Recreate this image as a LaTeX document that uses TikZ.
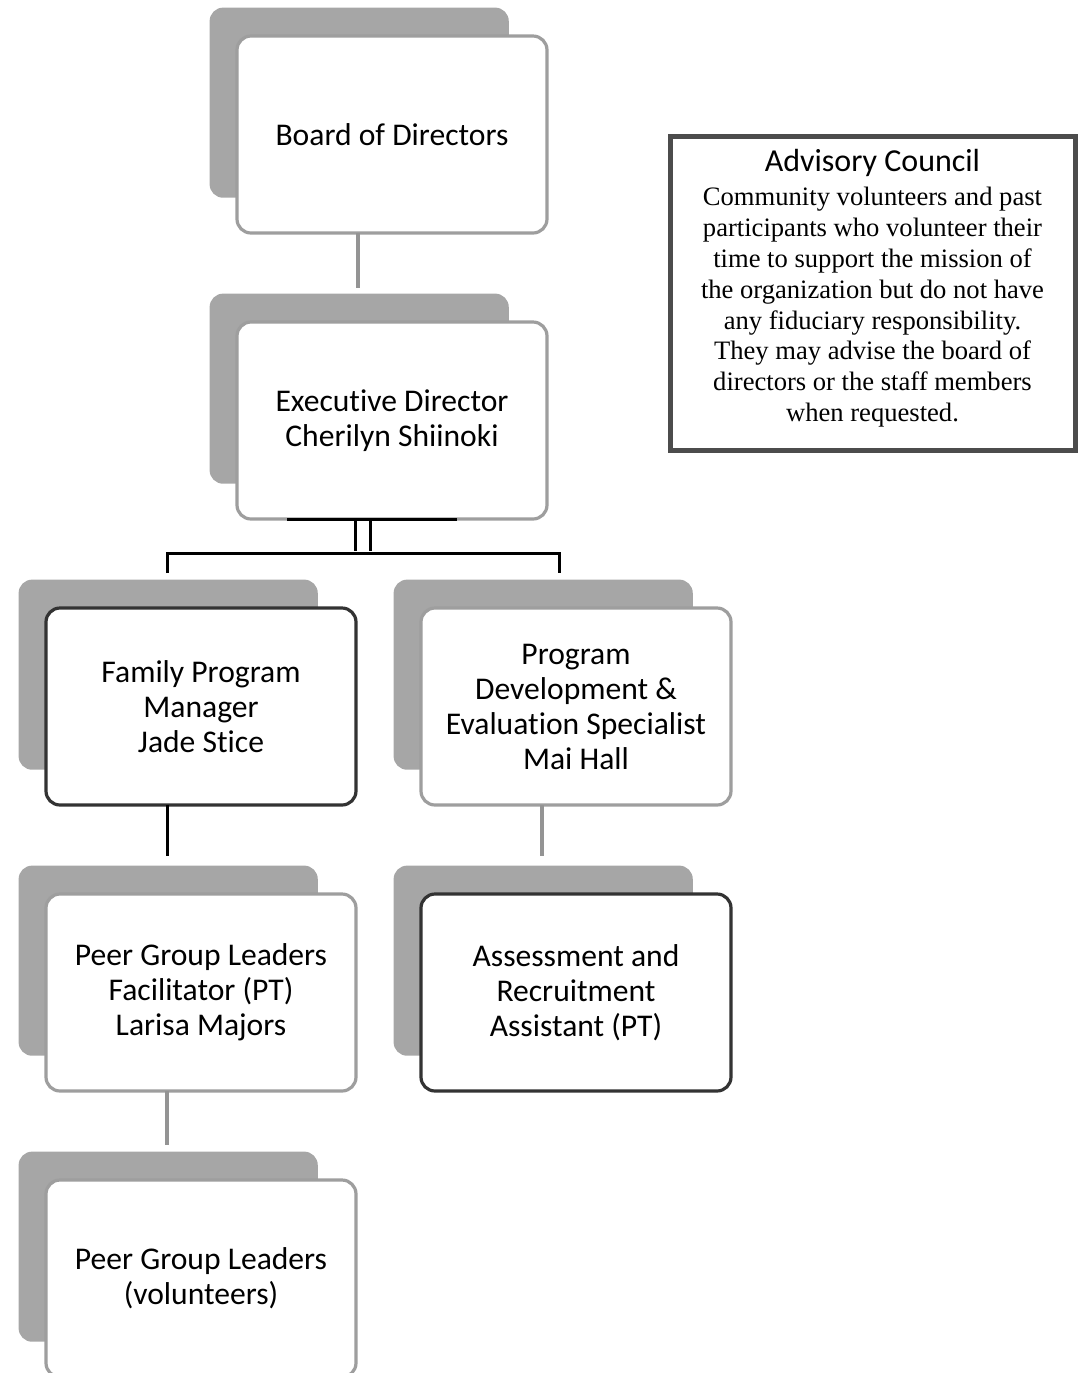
\documentclass[tikz,border=0pt]{standalone}
\usepackage{fontspec}
\setmainfont{Liberation Serif}
\setsansfont[Ligatures=NoCommon]{Carlito}
\usetikzlibrary{positioning, shadows}
\definecolor{shadegray}{gray}{0.65}
\definecolor{rimgray}{gray}{0.62}
\definecolor{inkgray}{gray}{0.2}
\definecolor{linkgray}{gray}{0.58}
\definecolor{framegray}{gray}{0.3}

\tikzset{
  post/.style={draw=rimgray, line width=1.6pt, fill=white, rounded corners=7pt,
    minimum width=155pt, minimum height=98.5pt, align=center, outer sep=0pt,
    font=\sffamily\fontsize{15.8}{17.5}\selectfont,
    general shadow={fill=shadegray, shadow xshift=-17pt, shadow yshift=16.5pt, shadow scale=0.965}},
  inked/.style={draw=inkgray},
  council/.style={draw=framegray, line width=2.5pt, minimum width=202.5pt, minimum height=157pt},
  link/.style={draw=linkgray, line width=2pt},
  bus/.style={draw=black, line width=1.5pt},
}

\begin{document}
\begin{tikzpicture}
    \useasboundingbox (0,0) rectangle (540pt,-686.5pt);

    \node[post] (board) at (196pt,-67.25pt) {Board of Directors};
    \node[post, below=44.5pt of board] (exec) {Executive Director\\Cherilyn Shiinoki};
    \node[post, inked, below=44.5pt of exec, xshift=-95.5pt] (fam) {Family Program\\Manager\\Jade Stice};
    \node[post, right=32.5pt of fam] (prog) {Program\\Development \&\\Evaluation Specialist\\Mai Hall};
    \node[post, below=44.5pt of fam] (peer) {Peer Group Leaders\\Facilitator (PT)\\Larisa Majors};
    \node[post, inked, right=32.5pt of peer] (assess) {Assessment and\\Recruitment\\Assistant (PT)};
    \node[post, below=44.5pt of peer] (vol) {Peer Group Leaders\\(volunteers)};

    \node[council] (adv) at (436.25pt,-146.5pt) {};
    \node[align=center, font=\fontsize{13.3}{15.4}\selectfont] (advtext) at ([yshift=2.5pt]adv.center)
      {{\sffamily\fontsize{16}{19}\selectfont Advisory Council}\\[2pt]
      Community volunteers and past\\participants who volunteer their\\time to support the mission of\\
      the organization but do not have\\any fiduciary responsibility.\\They may advise the board of\\
      directors or the staff members\\when requested.};

    \draw[link] ([xshift=-17pt]board.south) -- ([xshift=-17pt,yshift=17pt]exec.north);

    % split below the executive director
    \coordinate (dropL) at ([xshift=-17pt,yshift=17.5pt]fam.north);
    \coordinate (dropR) at ([xshift=-8.5pt,yshift=17.5pt]prog.north);
    \draw[bus] ([xshift=-52.5pt]exec.south) -- ([xshift=32.5pt]exec.south);
    \draw[bus] ([xshift=-18.5pt]exec.south) -- ++(0,-16pt);
    \draw[bus] ([xshift=-11pt]exec.south) -- ++(0,-16pt);
    \draw[bus] (dropL) -- ++(0,10pt) -| (dropR);

    \draw[bus] ([xshift=-17pt]fam.south) -- ([xshift=-17pt,yshift=19pt]peer.north);
    \draw[link] ([xshift=-17pt]prog.south) -- ([xshift=-17pt,yshift=19pt]assess.north);
    \draw[link] ([xshift=-17pt]peer.south) -- ([xshift=-17pt,yshift=17.5pt]vol.north);
\end{tikzpicture}
\end{document}
